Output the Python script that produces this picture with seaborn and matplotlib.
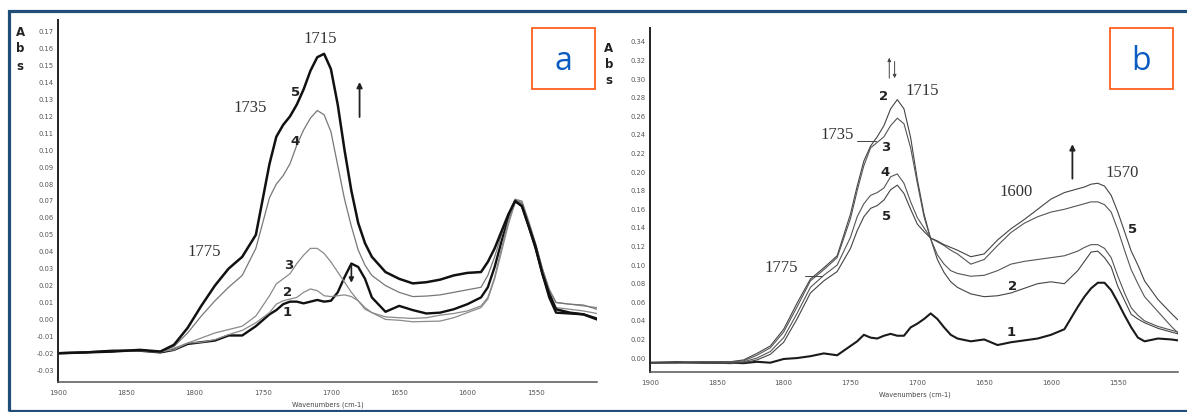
import numpy as np
import pandas as pd
import matplotlib
matplotlib.use("Agg")
import matplotlib.pyplot as plt
import matplotlib.patches as mpatches
from matplotlib.ticker import MultipleLocator, FormatStrFormatter
import seaborn as sns

sns.set_style("white")
plt.rcParams["font.family"] = ["DejaVu Sans"]
plt.rcParams["lines.solid_joinstyle"] = "round"

# ---- panel a : wavenumbers and absorbance of spectra 1-5
wn_a = [1900, 1880, 1860, 1840, 1825, 1815, 1805, 1795, 1785, 1775,
        1765, 1755, 1745, 1740, 1735, 1730, 1725, 1720, 1715, 1710,
        1705, 1700, 1695, 1690, 1685, 1680, 1675, 1670, 1660, 1650,
        1640, 1630, 1620, 1610, 1600, 1590, 1585, 1580, 1575, 1570,
        1565, 1560, 1555, 1550, 1545, 1540, 1535, 1525, 1515, 1505]
a1 = [-0.020, -0.0195, -0.0185, -0.0185, -0.0195, -0.018, -0.0145, -0.0135, -0.0125, -0.0095,
      -0.0095, -0.004, 0.003, 0.0055, 0.009, 0.0105, 0.0105, 0.0095, 0.0105, 0.0115,
      0.0105, 0.011, 0.016, 0.025, 0.033, 0.031, 0.024, 0.013, 0.0045, 0.008,
      0.0055, 0.0035, 0.004, 0.006, 0.009, 0.013, 0.019, 0.031, 0.046, 0.060,
      0.070, 0.067, 0.055, 0.042, 0.027, 0.013, 0.004, 0.0035, 0.003, 0.0005]
a2 = [-0.020, -0.0195, -0.019, -0.0185, -0.0195, -0.017, -0.014, -0.0135, -0.012, -0.009,
      -0.0065, -0.002, 0.004, 0.009, 0.011, 0.012, 0.013, 0.016, 0.018, 0.017,
      0.014, 0.0135, 0.014, 0.0145, 0.0135, 0.011, 0.007, 0.004, 0.000, -0.0005,
      -0.0014, -0.0012, -0.001, 0.001, 0.004, 0.007, 0.012, 0.024, 0.040, 0.056,
      0.069, 0.069, 0.057, 0.044, 0.029, 0.016, 0.007, 0.006, 0.005, 0.0035]
a3 = [-0.020, -0.0195, -0.019, -0.018, -0.019, -0.018, -0.014, -0.011, -0.008, -0.006,
      -0.004, 0.002, 0.014, 0.021, 0.024, 0.027, 0.033, 0.038, 0.042, 0.042,
      0.039, 0.034, 0.028, 0.022, 0.016, 0.011, 0.006, 0.004, 0.0015, 0.001,
      0.0006, 0.001, 0.0025, 0.0035, 0.005, 0.008, 0.013, 0.025, 0.042, 0.058,
      0.071, 0.070, 0.058, 0.045, 0.030, 0.018, 0.010, 0.009, 0.008, 0.007]
a4 = [-0.020, -0.0195, -0.019, -0.018, -0.019, -0.016, -0.008, 0.002, 0.011, 0.019,
      0.026, 0.042, 0.072, 0.080, 0.085, 0.092, 0.103, 0.112, 0.119, 0.1235,
      0.121, 0.111, 0.091, 0.071, 0.055, 0.041, 0.032, 0.026, 0.020, 0.016,
      0.0135, 0.0138, 0.0145, 0.016, 0.0175, 0.019, 0.026, 0.037, 0.050, 0.062,
      0.071, 0.069, 0.057, 0.044, 0.030, 0.017, 0.010, 0.009, 0.0085, 0.006]
a5 = [-0.020, -0.0195, -0.019, -0.018, -0.019, -0.015, -0.005, 0.008, 0.020, 0.030,
      0.037, 0.050, 0.092, 0.108, 0.115, 0.120, 0.127, 0.136, 0.147, 0.155,
      0.157, 0.148, 0.127, 0.100, 0.076, 0.057, 0.045, 0.037, 0.028, 0.024,
      0.0213, 0.022, 0.0235, 0.026, 0.0275, 0.028, 0.034, 0.042, 0.052, 0.062,
      0.070, 0.067, 0.055, 0.043, 0.027, 0.015, 0.006, 0.004, 0.003, 0.000]

# ---- panel b
wn_b = [1900, 1880, 1860, 1840, 1830, 1820, 1810, 1800, 1790, 1780,
        1770, 1760, 1750, 1745, 1740, 1735, 1730, 1725, 1720, 1715,
        1710, 1705, 1700, 1695, 1690, 1685, 1680, 1675, 1670, 1660,
        1650, 1640, 1630, 1620, 1610, 1600, 1590, 1580, 1575, 1570,
        1565, 1560, 1555, 1550, 1545, 1540, 1535, 1530, 1520, 1510, 1505]
b1 = [-0.005, -0.0045, -0.005, -0.005, -0.0055, -0.004, -0.005, -0.001, 0.000, 0.002,
      0.005, 0.003, 0.013, 0.018, 0.025, 0.022, 0.021, 0.024, 0.026, 0.024,
      0.024, 0.033, 0.037, 0.042, 0.048, 0.042, 0.033, 0.025, 0.021, 0.018,
      0.020, 0.014, 0.017, 0.019, 0.021, 0.025, 0.031, 0.055, 0.066, 0.075,
      0.081, 0.081, 0.073, 0.060, 0.046, 0.033, 0.022, 0.018, 0.021, 0.020, 0.019]
b2 = [-0.005, -0.005, -0.004, -0.004, -0.002, 0.005, 0.013, 0.031, 0.059, 0.085,
      0.097, 0.110, 0.155, 0.185, 0.212, 0.228, 0.238, 0.250, 0.268, 0.278,
      0.268, 0.237, 0.192, 0.155, 0.128, 0.106, 0.092, 0.082, 0.076, 0.069,
      0.066, 0.067, 0.070, 0.075, 0.080, 0.082, 0.080, 0.094, 0.104, 0.114,
      0.115, 0.108, 0.098, 0.077, 0.062, 0.047, 0.042, 0.038, 0.032, 0.028, 0.026]
b3 = [-0.005, -0.005, -0.004, -0.004, -0.003, 0.003, 0.011, 0.028, 0.055, 0.083,
      0.095, 0.108, 0.150, 0.180, 0.207, 0.226, 0.232, 0.238, 0.250, 0.258,
      0.252, 0.226, 0.188, 0.152, 0.128, 0.111, 0.101, 0.094, 0.091, 0.088,
      0.089, 0.094, 0.101, 0.104, 0.106, 0.108, 0.110, 0.115, 0.119, 0.122,
      0.122, 0.118, 0.108, 0.088, 0.070, 0.054, 0.046, 0.040, 0.034, 0.030, 0.028]
b4 = [-0.005, -0.005, -0.005, -0.005, -0.004, 0.000, 0.007, 0.022, 0.048, 0.076,
      0.089, 0.100, 0.130, 0.152, 0.166, 0.175, 0.178, 0.183, 0.195, 0.198,
      0.188, 0.168, 0.151, 0.140, 0.129, 0.125, 0.121, 0.116, 0.112, 0.101,
      0.106, 0.121, 0.135, 0.145, 0.152, 0.157, 0.160, 0.164, 0.166, 0.168,
      0.168, 0.165, 0.157, 0.138, 0.116, 0.095, 0.080, 0.066, 0.050, 0.034, 0.027]
b5 = [-0.005, -0.005, -0.005, -0.006, -0.005, -0.002, 0.004, 0.017, 0.042, 0.070,
      0.083, 0.093, 0.118, 0.137, 0.152, 0.161, 0.164, 0.170, 0.181, 0.186,
      0.177, 0.160, 0.144, 0.136, 0.129, 0.126, 0.122, 0.119, 0.116, 0.109,
      0.112, 0.127, 0.139, 0.149, 0.160, 0.171, 0.178, 0.182, 0.184, 0.187,
      0.188, 0.185, 0.175, 0.157, 0.136, 0.115, 0.100, 0.083, 0.063, 0.048, 0.041]

x_ticks = [1900, 1850, 1800, 1750, 1700, 1650, 1600, 1550]

fig = plt.figure(figsize=(11.87, 4.12), dpi=100)
ax_a = fig.add_axes([58/1187, 30/412, 539/1187, 362/412])
ax_b = fig.add_axes([650/1187, 40/412, 528/1187, 344/412])

# panel a curves: 1 and 5 thick black, 2-4 thin grey
styles_a = [(a1, "#111111", 1.7), (a2, "#8a8a8a", 0.9), (a3, "#8a8a8a", 0.9),
            (a4, "#777777", 0.9), (a5, "#111111", 1.8)]
for vals, col, lw in styles_a:
    sns.lineplot(x=wn_a, y=vals, ax=ax_a, color=col, linewidth=lw)

styles_b = [(b1, "#1a1a1a", 1.5), (b2, "#444444", 0.8), (b3, "#555555", 0.8),
            (b4, "#555555", 0.8), (b5, "#444444", 0.8)]
for vals, col, lw in styles_b:
    sns.lineplot(x=wn_b, y=vals, ax=ax_b, color=col, linewidth=lw)

for ax, ylo, yhi, ystep in [(ax_a, -0.037, 0.177, 0.01), (ax_b, -0.015, 0.355, 0.02)]:
    ax.set_xlim(1900, 1505)
    ax.set_ylim(ylo, yhi)
    ax.set_xticks(x_ticks)
    ax.xaxis.set_minor_locator(MultipleLocator(10))
    ax.yaxis.set_major_locator(MultipleLocator(ystep))
    ax.yaxis.set_major_formatter(FormatStrFormatter("%.2f"))
    ax.set_xlabel("")
    ax.set_ylabel("")
    ax.spines["top"].set_visible(False)
    ax.spines["right"].set_visible(False)
    ax.spines["left"].set_color("#222222")
    ax.spines["left"].set_linewidth(1.4)
    ax.spines["bottom"].set_color("#555555")
    ax.spines["bottom"].set_linewidth(1.1)
    ax.tick_params(axis="y", direction="out", length=2, width=0.6, pad=1,
                   labelsize=4.9, labelcolor="#555555", color="#666666")
    ax.tick_params(axis="x", which="major", direction="inout", length=4, width=0.7,
                   pad=4, labelsize=5, labelcolor="#555555", color="#555555")
    ax.tick_params(axis="x", which="minor", direction="inout", length=2, width=0.5,
                   color="#777777")
    ax.set_facecolor("white")

ax_a.set_yticks(np.arange(-0.03, 0.1701, 0.01))
ax_b.set_yticks(np.arange(0.0, 0.3401, 0.02))

serif = dict(family="Liberation Serif", fontsize=12, color="#333333", ha="center", va="center")
num = dict(fontsize=9.5, fontweight="bold", color="#222222", ha="center", va="center")

# panel a annotations
ax_a.text(1708, 0.166, "1715", **serif)
ax_a.text(1759, 0.125, "1735", **serif)
ax_a.text(1793, 0.040, "1775", **serif)
for lab, x, y in [("5", 1726, 0.134), ("4", 1726, 0.105), ("3", 1731, 0.032),
                  ("2", 1732, 0.016), ("1", 1732, 0.004)]:
    ax_a.text(x, y, lab, **num)
ax_a.annotate("", xy=(1679, 0.142), xytext=(1679, 0.118),
              arrowprops=dict(arrowstyle="-|>", color="#222222", lw=1.3, mutation_scale=8))
ax_a.annotate("", xy=(1685, 0.020), xytext=(1685, 0.034),
              arrowprops=dict(arrowstyle="-|>", color="#222222", lw=1.2, mutation_scale=7))

# panel b annotations
ax_b.text(1696, 0.287, "1715", **serif)
ax_b.text(1760, 0.240, "1735", **serif)
ax_b.text(1802, 0.097, "1775", **serif)
ax_b.text(1626, 0.179, "1600", **serif)
ax_b.text(1547, 0.199, "1570", **serif)
ax_b.plot([1745, 1731], [0.233, 0.233], color="#444444", lw=0.7)
ax_b.plot([1784, 1771], [0.088, 0.088], color="#444444", lw=0.7)
for lab, x, y in [("2", 1725, 0.281), ("3", 1724, 0.227), ("4", 1724, 0.200),
                  ("5", 1723, 0.152), ("2", 1629, 0.077), ("1", 1630, 0.028),
                  ("5", 1539, 0.138)]:
    ax_b.text(x, y, lab, **num)
ax_b.annotate("", xy=(1584, 0.233), xytext=(1584, 0.190),
              arrowprops=dict(arrowstyle="-|>", color="#222222", lw=1.3, mutation_scale=8))
ax_b.annotate("", xy=(1721, 0.326), xytext=(1721, 0.298),
              arrowprops=dict(arrowstyle="-|>", color="#444444", lw=0.7, mutation_scale=5))
ax_b.annotate("", xy=(1717, 0.298), xytext=(1717, 0.322),
              arrowprops=dict(arrowstyle="-|>", color="#444444", lw=0.7, mutation_scale=5))

# "Abs" stacked labels and x labels
for x0, ys in [(20, [32, 48, 66]), (609, [49, 64, 81])]:
    for ch, yy in zip("Abs", ys):
        fig.text(x0/1187, 1 - yy/412, ch, fontsize=8.5, fontweight="bold",
                 color="#222222", ha="center", va="center")
fig.text(328/1187, 1 - 405/412, "Wavenumbers (cm-1)", fontsize=4.8, color="#444444",
         ha="center", va="center")
fig.text(915/1187, 1 - 395/412, "Wavenumbers (cm-1)", fontsize=4.8, color="#444444",
         ha="center", va="center")

# panel letters in orange boxes
for left, letter in [(532, "a"), (1110, "b")]:
    fig.patches.append(mpatches.Rectangle((left/1187, (412-89)/412), 63/1187, 61/412,
                                          transform=fig.transFigure, fill=False,
                                          edgecolor="#ff5f1f", linewidth=1.3))
    fig.text((left + 31.5)/1187, 1 - 61/412, letter, fontsize=23, color="#0b5cc0",
             family="Open Sans", ha="center", va="center")

# dark blue frame
fig.patches.append(mpatches.Rectangle((8.5/1187, 1.5/412), 1200/1187, 400/412,
                                      transform=fig.transFigure, fill=False,
                                      edgecolor="#1f4e79", linewidth=2.3))

fig.savefig("out.png", dpi=100, facecolor="white")
